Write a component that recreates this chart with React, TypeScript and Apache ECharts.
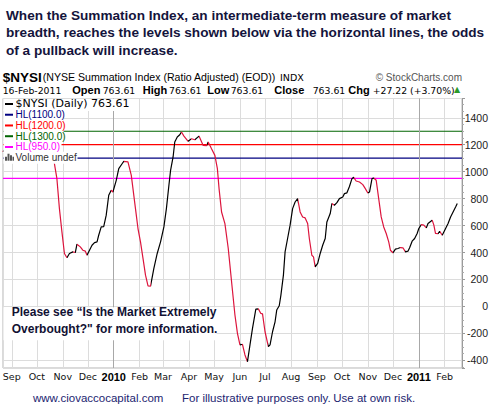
import React, { useEffect, useRef } from 'react';
import * as echarts from 'echarts';

// ---------- data ----------
const NYSI_DATES = [
  '2009-08-21', '2009-09-01', '2009-09-10', '2009-09-22', '2009-10-01', '2009-10-08', '2009-10-15', '2009-10-20',
  '2009-10-22', '2009-10-25', '2009-10-28', '2009-10-31', '2009-11-03', '2009-11-06', '2009-11-09', '2009-11-13',
  '2009-11-16', '2009-11-18', '2009-11-22', '2009-11-25', '2009-11-28', '2009-11-30', '2009-12-03', '2009-12-06',
  '2009-12-09', '2009-12-12', '2009-12-14', '2009-12-17', '2009-12-20', '2009-12-23', '2009-12-26', '2009-12-29',
  '2009-12-31', '2010-01-04', '2010-01-07', '2010-01-11', '2010-01-13', '2010-01-18', '2010-01-22', '2010-01-27',
  '2010-01-30', '2010-02-02', '2010-02-05', '2010-02-08', '2010-02-11', '2010-02-14', '2010-02-18', '2010-02-22',
  '2010-02-26', '2010-03-02', '2010-03-05', '2010-03-08', '2010-03-10', '2010-03-13', '2010-03-15', '2010-03-18',
  '2010-03-21', '2010-03-23', '2010-03-26', '2010-03-31', '2010-04-04', '2010-04-08', '2010-04-13', '2010-04-18',
  '2010-04-22', '2010-04-24', '2010-04-28', '2010-05-02', '2010-05-05', '2010-05-07', '2010-05-10', '2010-05-14',
  '2010-05-18', '2010-05-23', '2010-05-26', '2010-05-29', '2010-06-01', '2010-06-04', '2010-06-07', '2010-06-10',
  '2010-06-13', '2010-06-16', '2010-06-20', '2010-06-23', '2010-06-26', '2010-06-28', '2010-07-01', '2010-07-05',
  '2010-07-07', '2010-07-10', '2010-07-13', '2010-07-15', '2010-07-18', '2010-07-20', '2010-07-23', '2010-07-25',
  '2010-07-28', '2010-07-31', '2010-08-03', '2010-08-06', '2010-08-09', '2010-08-12', '2010-08-15', '2010-08-18',
  '2010-08-21', '2010-08-23', '2010-08-26', '2010-08-28', '2010-08-30', '2010-09-02', '2010-09-05', '2010-09-08',
  '2010-09-11', '2010-09-13', '2010-09-17', '2010-09-19', '2010-09-22', '2010-09-25', '2010-09-28', '2010-10-02',
  '2010-10-04', '2010-10-07', '2010-10-10', '2010-10-13', '2010-10-15', '2010-10-18', '2010-10-22', '2010-10-26',
  '2010-10-29', '2010-11-01', '2010-11-03', '2010-11-06', '2010-11-08', '2010-11-11', '2010-11-14', '2010-11-17',
  '2010-11-20', '2010-11-23', '2010-11-26', '2010-11-28', '2010-12-01', '2010-12-04', '2010-12-07', '2010-12-10',
  '2010-12-13', '2010-12-16', '2010-12-19', '2010-12-21', '2010-12-24', '2010-12-27', '2010-12-30', '2011-01-01',
  '2011-01-04', '2011-01-07', '2011-01-10', '2011-01-12', '2011-01-17', '2011-01-19', '2011-01-21', '2011-01-24',
  '2011-01-26', '2011-01-29', '2011-02-01', '2011-02-05', '2011-02-08', '2011-02-11', '2011-02-14', '2011-02-16',
];
const NYSI_VALUES = [
  1150, 1180, 1220, 1290, 1250, 1230, 1190, 1120,
  1059, 948, 726, 553, 393, 361, 393, 405,
  400, 462, 442, 417, 410, 380, 417, 454,
  474, 479, 528, 590, 592, 677, 825, 862,
  849, 936, 1022, 1059, 1077, 1072, 973, 726,
  578, 479, 356, 232, 153, 150, 282, 393,
  479, 590, 726, 899, 1010, 1109, 1220, 1257,
  1274, 1294, 1264, 1225, 1244, 1237, 1264, 1195,
  1193, 1220, 1170, 1121, 1022, 874, 701, 615,
  430, 120, -64, -200, -286, -281, -360, -410,
  -286, -163, -20, -18, -52, -55, -188, -299,
  -286, -188, -114, -27, 5, 84, 232, 405,
  504, 603, 726, 775, 800, 701, 664, 657,
  615, 504, 380, 368, 294, 319, 393, 454,
  504, 627, 689, 763, 751, 770, 800, 812,
  837, 843, 890, 948, 958, 931, 923, 904,
  874, 842, 849, 948, 953, 936, 800, 664,
  590, 541, 479, 417, 398, 425, 430, 437,
  435, 405, 410, 435, 484, 504, 541, 578,
  607, 603, 583, 615, 640, 603, 541, 540,
  558, 528, 566, 615, 664, 701, 738, 763.61,
];
const HL_LEVELS = [1100, 1200, 1300, 950];
const HL_COLORS = ['#000080', '#ff0000', '#006400', '#ff00ff'];
const HL_LABELS = ['HL(1100.0)', 'HL(1200.0)', 'HL(1300.0)', 'HL(950.0)'];
const YEAR_STARTS = ['2010-01-01', '2011-01-01'];
const MONTH_LABELS = ['Jan', 'Feb', 'Mar', 'Apr', 'May', 'Jun', 'Jul', 'Aug', 'Sep', 'Oct', 'Nov', 'Dec'];
const AXIS_START = '2009-08-21';
const AXIS_END = '2011-02-21';
const Y_MIN = -457;
const Y_MAX = 1543;

const TITLE_LINES = [
  'When the Summation Index, an intermediate-term measure of market',
  'breadth, reaches the levels shown below via the horizontal lines, the odds',
  'of a pullback will increase.',
];
const NOTE_LINES = ['Please see \u201cIs the Market Extremely', 'Overbought?" for more information.'];

// ---------- helpers ----------
const ts = (s: string, h = 0) => {
  const [y, m, d] = s.split('-').map(Number);
  return Date.UTC(y, m - 1, d, h);
};

const RISE = '#000000';
const FALL = '#dc143c';

function buildPieces() {
  const t = NYSI_DATES.map((d) => ts(d));
  const pieces: any[] = [];
  pieces.push({ lte: t[0], color: FALL });
  for (let i = 1; i < t.length; i++) {
    const color = NYSI_VALUES[i] >= NYSI_VALUES[i - 1] ? RISE : FALL;
    const last = pieces[pieces.length - 1];
    if (last.color === color && last.gt !== undefined) {
      last.lte = t[i];
    } else {
      pieces.push({ gt: t[i - 1], lte: t[i], color });
    }
  }
  pieces.push({ gt: t[t.length - 1], color: RISE });
  return pieces;
}

const T = (x: number, y: number, text: string, o: any = {}) => ({
  type: 'text',
  x,
  y,
  z: 200,
  zlevel: 1,
  silent: true,
  style: {
    text,
    fill: o.fill || '#000',
    fontSize: o.size || 11,
    fontFamily: o.family || 'Liberation Sans',
    fontWeight: o.weight || 'normal',
    align: o.align || 'left',
    verticalAlign: 'middle',
  },
});

const R = (x: number, y: number, w: number, h: number, fill: string, z = 150) => ({
  type: 'rect',
  z,
  zlevel: 1,
  silent: true,
  shape: { x, y, width: w, height: h },
  style: { fill },
});

function buildGraphics() {
  const g: any[] = [];
  const TITLE_C = '#14143c';
  TITLE_LINES.forEach((l, i) => g.push(T(6, 15 + i * 17.8, l, { size: 13.6, weight: 'bold', fill: TITLE_C })));

  // header line 1
  g.push(T(2.7, 77, '$NYSI', { size: 13.5, weight: 'bold' }));
  g.push(T(42.7, 77, '(NYSE Summation Index (Ratio Adjusted) (EOD))', { size: 10.6 }));
  g.push(T(280, 77.5, 'INDX', { size: 9.5, family: 'DejaVu Sans' }));
  g.push(T(462, 77, '\u00a9 StockCharts.com', { size: 10, fill: '#555', align: 'right' }));

  // header line 2
  const mono = { size: 9.3, family: 'DejaVu Sans' };
  const bold = { size: 11, weight: 'bold' };
  g.push(T(2.7, 90, '16-Feb-2011', mono));
  g.push(T(72.3, 90, 'Open', bold));
  g.push(T(102.7, 90, '763.61', mono));
  g.push(T(142.7, 90, 'High', bold));
  g.push(T(169, 90, '763.61', mono));
  g.push(T(207.3, 90, 'Low', bold));
  g.push(T(230.7, 90, '763.61', mono));
  g.push(T(274.3, 90, 'Close', bold));
  g.push(T(312.7, 90, '763.61', mono));
  g.push(T(348.3, 90, 'Chg', bold));
  g.push(T(372.7, 90, '+27.22 (+3.70%)', mono));
  g.push(T(454, 89, '\u25b2', { size: 8, family: 'DejaVu Sans', fill: '#2a9a2a' }));

  // legend rows (with white backgrounds covering the lines)
  const rowH = 10.75;
  const top = 98.6;
  const rows = [
    { text: '$NYSI (Daily) 763.61', color: '#000', w: 131, font: { size: 11, family: 'DejaVu Sans' } },
    ...HL_LABELS.map((t, i) => ({ text: t, color: HL_COLORS[i], w: i === 3 ? 58 : 60, font: { size: 10 } })),
    { text: 'Volume undef', color: '#333', w: 74, font: { size: 10 } },
  ];
  rows.forEach((r, i) => {
    const y0 = top + i * rowH;
    const cy = y0 + rowH / 2;
    g.push(R(3.5, Math.max(99, y0 - 0.6), r.w, rowH + 1.2, '#ffffff', 150));
    if (i < 5) {
      g.push(R(5, cy - 1, 8, 2, r.color, 160));
    } else {
      g.push(R(5, cy - 1, 2, 4, '#555', 160));
      g.push(R(7.5, cy - 4, 2, 7, '#555', 160));
      g.push(R(10, cy - 2.5, 2, 5.5, '#555', 160));
      g.push(R(12.5, cy - 1, 1.5, 4, '#555', 160));
    }
    g.push(T(15.5, cy, r.text, { ...r.font, fill: r.color }));
  });

  // note box
  g.push(R(3.5, 307.2, 213, 33, '#ffffff', 120));
  NOTE_LINES.forEach((l, i) => g.push(T(11.7, 312.3 + i * 17, l, { size: 12, weight: 'bold', fill: '#111133' })));

  // footer
  const FOOT = '#1c2470';
  g.push(T(33, 397.7, 'www.ciovaccocapital.com', { size: 11.5, fill: FOOT }));
  g.push(T(182, 397.7, 'For illustrative purposes only.', { size: 11.5, fill: FOOT }));
  g.push(T(333.3, 397.7, 'Use at own risk.', { size: 11.5, fill: FOOT }));
  return g;
}

export default function App() {
  const ref = useRef<HTMLDivElement>(null);
  useEffect(() => {
    const chart = echarts.init(ref.current!, null, { renderer: 'svg', width: 492, height: 413 });
    const xMin = ts(AXIS_START, 12);
    const xMax = ts(AXIS_END, 16);
    const nysi = NYSI_DATES.map((d, i) => [ts(d), NYSI_VALUES[i]]);
    const option: any = {
      animation: false,
      useUTC: true,
      backgroundColor: '#ffffff',
      grid: {
        left: 3,
        right: 30,
        top: 98.5,
        bottom: 45,
        show: true,
        borderColor: '#b4b4b4',
        borderWidth: 1,
        containLabel: false,
        outerBoundsMode: 'none',
      },
      xAxis: {
        type: 'time',
        min: xMin,
        max: xMax,
        splitNumber: 18,
        minInterval: 28 * 86400000,
        maxInterval: 31 * 86400000,
        axisLine: { show: false },
        axisTick: { show: false },
        axisLabel: {
          margin: 3,
          hideOverlap: false,
          showMinLabel: false,
          showMaxLabel: false,
          formatter: (val: number) => {
            const d = new Date(val);
            if (d.getUTCDate() !== 1 || d.getUTCHours() !== 0) return '';
            const m = d.getUTCMonth();
            return m === 0 ? '{yr|' + d.getUTCFullYear() + '}' : '{mo|' + MONTH_LABELS[m] + '}';
          },
          rich: {
            yr: { fontFamily: 'Liberation Sans', fontWeight: 'bold', fontSize: 11, color: '#000' },
            mo: { fontFamily: 'DejaVu Sans', fontSize: 9.5, color: '#111' },
          },
        },
        splitLine: { show: true, lineStyle: { color: '#dcdcdc', width: 1 } },
      },
      yAxis: {
        type: 'value',
        position: 'right',
        min: Y_MIN,
        max: Y_MAX,
        splitNumber: 10,
        minInterval: 200,
        maxInterval: 200,
        axisLine: { show: true, lineStyle: { color: '#9a9a9a' } },
        axisTick: { show: true, length: 3, lineStyle: { color: '#9a9a9a' } },
        minorTick: { show: true, splitNumber: 4, length: 2, lineStyle: { color: '#aaaaaa' } },
        axisLabel: {
          margin: 26,
          align: 'right',
          fontSize: 10.5,
          fontFamily: 'Liberation Sans',
          color: '#222',
          showMinLabel: false,
          showMaxLabel: false,
          formatter: (v: number) => String(v),
        },
        splitLine: { show: true, lineStyle: { color: '#dcdcdc', width: 1 } },
      },
      visualMap: {
        type: 'piecewise',
        show: false,
        dimension: 0,
        seriesIndex: 0,
        pieces: buildPieces(),
      },
      series: [
        {
          name: '$NYSI',
          type: 'line',
          data: nysi,
          showSymbol: false,
          symbol: 'none',
          silent: true,
          z: 5,
          lineStyle: { width: 1.2 },
        },
        ...HL_LEVELS.map((lv, i) => ({
          name: HL_LABELS[i],
          type: 'line',
          data: [
            [xMin, lv],
            [xMax, lv],
          ],
          showSymbol: false,
          symbol: 'none',
          silent: true,
          z: 3,
          lineStyle: { color: HL_COLORS[i], width: 1.2 },
          itemStyle: { color: HL_COLORS[i] },
        })),
        {
          name: 'years',
          type: 'line',
          data: [],
          silent: true,
          z: 1,
          markLine: {
            symbol: ['none', 'none'],
            silent: true,
            label: { show: false },
            lineStyle: { color: '#a8a8a8', type: 'solid', width: 1 },
            data: YEAR_STARTS.map((d) => ({ xAxis: ts(d) })),
          },
        },
      ],
      graphic: { zlevel: 1, z: 200, elements: buildGraphics() },
    };
    chart.setOption(option);
    return () => chart.dispose();
  }, []);
  return (
    <div
      ref={ref}
      style={{ position: 'fixed', left: 0, top: 0, width: 492, height: 413, background: '#fff' }}
    />
  );
}
